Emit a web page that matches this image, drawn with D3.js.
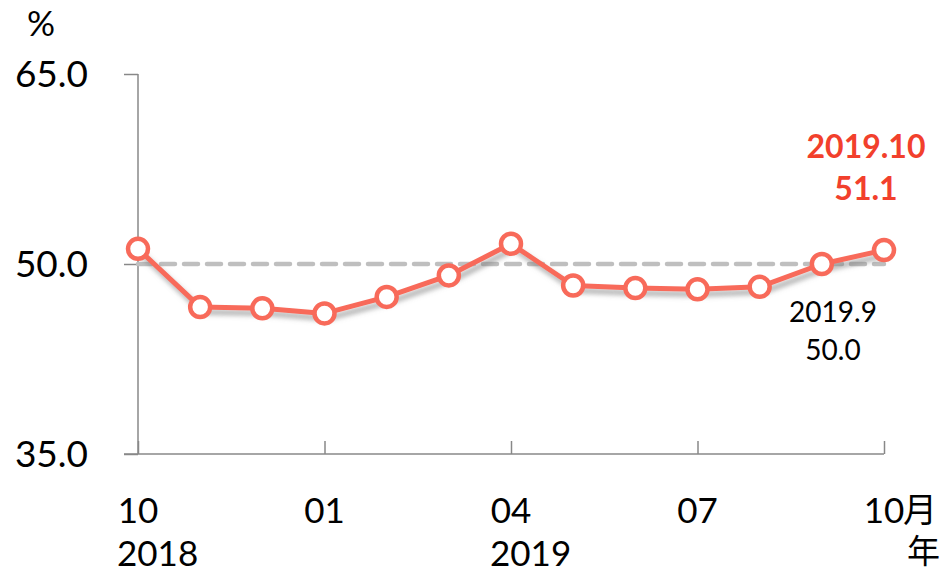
<!DOCTYPE html>
<meta charset="utf-8">
<script src="https://cdn.jsdelivr.net/npm/d3@7"></script>
<style>
  body { margin: 0; background: #fff; }
  text { font-family: Lato, "Noto Sans", sans-serif; }
  .cjk { font-family: "Noto Sans CJK SC", sans-serif; }
</style>
<body>
<script>
// monthly index values, 2018.10 .. 2019.10
var months = ["2018.10","2018.11","2018.12","2019.01","2019.02","2019.03","2019.04",
              "2019.05","2019.06","2019.07","2019.08","2019.09","2019.10"];
var values = [51.2, 46.6, 46.5, 46.1, 47.4, 49.1, 51.6, 48.3, 48.1, 48.0, 48.2, 50.0, 51.1];
var yTicks = [35, 50, 65];
var xTickIdx = [0, 3, 6, 9, 12];
var xTickLabels = ["10", "01", "04", "07", "10"];
var yearLabels = [{i: 0, t: "2018"}, {i: 6, t: "2019"}];
var refLevel = 50;

var width = 947, height = 574;
var svg = d3.select("body").append("svg")
    .attr("width", width)
    .attr("height", height);

var x = d3.scalePoint().domain(d3.range(months.length)).range([138, 884]);
var y = d3.scaleLinear().domain([35, 65]).range([454, 74]);

var lineColor = "#f86a5a";

var defs = svg.append("defs");
var f = defs.append("filter").attr("id", "shadow")
    .attr("x", "-10%").attr("y", "-20%").attr("width", "130%").attr("height", "160%");
f.append("feDropShadow").attr("dx", 3).attr("dy", 5).attr("stdDeviation", 2.5)
    .attr("flood-color", "#777").attr("flood-opacity", 0.6);

// y axis
var yAxis = svg.append("g").attr("transform", "translate(138,0)")
    .call(d3.axisLeft(y).tickValues(yTicks).tickSize(14).tickFormat(""));
yAxis.select(".domain").attr("stroke", "#888").attr("stroke-width", 1.5)
    .attr("d", "M0," + y(65) + "V" + y(35));
yAxis.selectAll(".tick line").attr("stroke", "#888").attr("stroke-width", 1.5);

svg.selectAll(".ylab").data(yTicks).enter().append("text")
    .attr("x", 88).attr("y", function(d) { return y(d); })
    .attr("dy", "0.36em")
    .attr("text-anchor", "end")
    .attr("font-size", 37)
    .attr("fill", "#000")
    .text(function(d) { return d.toFixed(1); });

svg.append("text").attr("x", 41).attr("y", 36).attr("text-anchor", "middle")
    .attr("font-size", 35).text("%");

// x axis
var xAxis = svg.append("g").attr("transform", "translate(0," + y(35) + ")")
    .call(d3.axisBottom(x).tickValues(xTickIdx).tickSize(-13).tickFormat(""));
xAxis.select(".domain").attr("stroke", "#888").attr("stroke-width", 1.5)
    .attr("d", "M124,0H" + x(12));
xAxis.selectAll(".tick line").attr("stroke", "#888").attr("stroke-width", 1.5);

svg.selectAll(".xlab").data(xTickIdx).enter().append("text")
    .attr("x", function(d) { return x(d); })
    .attr("y", 523)
    .attr("text-anchor", "middle")
    .attr("font-size", 35)
    .text(function(d, i) { return xTickLabels[i]; });

svg.selectAll(".yrlab").data(yearLabels).enter().append("text")
    .attr("x", function(d) { return x(d.i) - 21; })
    .attr("y", 566)
    .attr("font-size", 35)
    .text(function(d) { return d.t; });

svg.append("text").attr("class", "cjk").attr("x", 903).attr("y", 522)
    .attr("font-size", 34).text("月");
svg.append("text").attr("class", "cjk").attr("x", 907).attr("y", 563)
    .attr("font-size", 33).text("年");

// 50 reference line
svg.append("line")
    .attr("x1", x(0)).attr("x2", x(12))
    .attr("y1", y(refLevel)).attr("y2", y(refLevel))
    .attr("stroke", "#bfbfbf").attr("stroke-width", 4.5)
    .attr("stroke-dasharray", "14,9").attr("stroke-linecap", "round");

// series
var g = svg.append("g").attr("filter", "url(#shadow)");
g.append("path").datum(values)
    .attr("fill", "none")
    .attr("stroke", lineColor)
    .attr("stroke-width", 5)
    .attr("stroke-linejoin", "round")
    .attr("d", d3.line().x(function(d, i) { return x(i); }).y(function(d) { return y(d); }));

svg.selectAll(".pt").data(values).enter().append("circle")
    .attr("cx", function(d, i) { return x(i); })
    .attr("cy", function(d) { return y(d); })
    .attr("r", 10)
    .attr("fill", "#fff")
    .attr("stroke", lineColor)
    .attr("stroke-width", 4.5);

// annotations
var last = values.length - 1;
svg.append("text").attr("x", 866).attr("y", 158).attr("text-anchor", "middle")
    .attr("font-size", 32).attr("font-weight", "bold").attr("fill", "#f2402c")
    .text(months[last]);
svg.append("text").attr("x", 866).attr("y", 200).attr("text-anchor", "middle")
    .attr("font-size", 32).attr("font-weight", "bold").attr("fill", "#f2402c")
    .text(values[last].toFixed(1));

svg.append("text").attr("x", 833).attr("y", 322).attr("text-anchor", "middle")
    .attr("font-size", 28).attr("fill", "#000")
    .text("2019.9");
svg.append("text").attr("x", 833).attr("y", 360).attr("text-anchor", "middle")
    .attr("font-size", 28).attr("fill", "#000")
    .text(values[last - 1].toFixed(1));
</script>
</body>
</html>
